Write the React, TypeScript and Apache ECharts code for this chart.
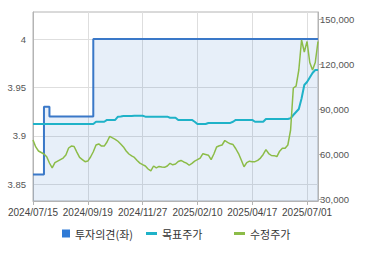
import React, { useEffect, useRef } from "react";
import * as echarts from "echarts";

const dates: string[] = [
  "2024/07/15", "2024/07/18", "2024/07/22", "2024/07/25", "2024/07/29", "2024/08/01", "2024/08/05", "2024/08/08",
  "2024/08/12", "2024/08/16", "2024/08/20", "2024/08/23", "2024/08/27", "2024/08/30", "2024/09/03", "2024/09/05",
  "2024/09/09", "2024/09/11", "2024/09/12", "2024/09/13", "2024/09/19",
  "2024/09/24", "2024/09/26", "2024/09/30", "2024/10/04", "2024/10/08", "2024/10/11", "2024/10/15", "2024/10/18",
  "2024/10/22", "2024/10/25", "2024/10/29", "2024/11/01", "2024/11/05", "2024/11/08", "2024/11/12", "2024/11/15",
  "2024/11/19", "2024/11/21", "2024/11/25", "2024/11/27",
  "2024/12/02", "2024/12/05", "2024/12/09", "2024/12/12", "2024/12/16", "2024/12/19", "2024/12/23", "2024/12/27",
  "2025/01/02", "2025/01/06", "2025/01/09", "2025/01/13", "2025/01/16", "2025/01/20", "2025/01/23", "2025/01/31",
  "2025/02/03", "2025/02/05", "2025/02/07", "2025/02/10",
  "2025/02/13", "2025/02/17", "2025/02/20", "2025/02/24", "2025/02/27", "2025/03/04", "2025/03/07", "2025/03/11",
  "2025/03/14", "2025/03/18", "2025/03/21", "2025/03/25", "2025/03/28", "2025/04/01", "2025/04/04", "2025/04/07",
  "2025/04/09", "2025/04/11", "2025/04/15", "2025/04/17",
  "2025/04/22", "2025/04/25", "2025/04/29", "2025/05/02", "2025/05/08", "2025/05/12", "2025/05/15", "2025/05/19",
  "2025/05/22", "2025/05/26", "2025/05/29", "2025/06/02", "2025/06/05", "2025/06/10", "2025/06/12", "2025/06/16",
  "2025/06/19", "2025/06/23", "2025/06/26", "2025/07/01",
  "2025/07/04", "2025/07/08", "2025/07/11", "2025/07/15",
];

// 투자의견 (left axis)
const opinion: number[] = [
  3.86, 3.86, 3.86, 3.86, 3.93, 3.93, 3.92, 3.92, 3.92, 3.92, 3.92, 3.92, 3.92, 3.92, 3.92, 3.92,
  3.92, 3.92, 3.92, 3.92, 3.92, 3.92, 4, 4, 4, 4, 4, 4, 4, 4, 4, 4,
  4, 4, 4, 4, 4, 4, 4, 4, 4, 4, 4, 4, 4, 4, 4, 4,
  4, 4, 4, 4, 4, 4, 4, 4, 4, 4, 4, 4, 4, 4, 4, 4,
  4, 4, 4, 4, 4, 4, 4, 4, 4, 4, 4, 4, 4, 4, 4, 4,
  4, 4, 4, 4, 4, 4, 4, 4, 4, 4, 4, 4, 4, 4, 4, 4,
  4, 4, 4, 4, 4, 4, 4, 4, 4,
];

// 목표주가 (right axis)
const target: number[] = [
  80000, 80000, 80000, 80000, 80000, 80000, 80000, 80000, 80000, 80000, 80000, 80000, 80000, 80000, 80000, 80000,
  80000, 80000, 80000, 80000, 80000, 80000, 80000, 81500, 81500, 81500, 81500, 82700, 82700, 82700, 82700, 84900,
  85000, 85300, 85300, 85300, 85300, 85500, 85500, 85500, 85500, 84900, 84900, 84900, 84900, 84900, 84900, 84900,
  84900, 84900, 84200, 84200, 84200, 82700, 82700, 82700, 82700, 82700, 82700, 81500, 80000, 80000, 80000, 80000,
  80700, 80700, 80700, 80700, 80700, 80700, 80700, 80700, 80700, 81500, 82700, 82700, 82700, 82700, 82700, 82700,
  82700, 81500, 81500, 81500, 81500, 83300, 83300, 83300, 83300, 83300, 83300, 83300, 83300, 83300, 83800, 86000,
  88000, 90000, 97000, 106000, 108000, 111000, 114000, 116000, 116000,
];

// 수정주가 (right axis)
const price: number[] = [
  69300, 64700, 62000, 61000, 60000, 58200, 54000, 50700, 54300, 55300, 56300, 57300, 59300, 64000, 65300, 65000,
  61300, 57700, 56300, 54900, 55300, 58000, 61500, 66000, 66700, 65300, 65300, 68000, 71700, 70700, 69800, 68500,
  66700, 64700, 62000, 60000, 58700, 57700, 55700, 53900, 52900, 52000, 50000, 48700, 52000, 50700, 51700, 51300,
  51100, 52000, 53800, 52800, 53300, 55000, 55700, 54700, 53900, 52500, 53800, 55300, 56200, 57300, 60200, 59700,
  59200, 56300, 60000, 64700, 65500, 66000, 69000, 67700, 66800, 66300, 63500, 60300, 56000, 51500, 54300, 55200,
  54900, 54900, 55800, 57300, 59700, 62900, 60300, 59000, 58900, 58300, 61900, 63800, 63900, 66000, 76000, 104000,
  105300, 116000, 136000, 128000, 135000, 121000, 116000, 121000, 135000,
];

const leftTicks: number[] = [3.85, 3.9, 3.95, 4];
const rightTicks: number[] = [30000, 60000, 90000, 120000, 150000];

const BLUE = "#3a78c8";
const CYAN = "#1fb2c8";
const GREEN = "#8cbc48";

export default function App() {
  const ref = useRef<HTMLDivElement>(null);
  useEffect(() => {
    if (!ref.current) return;
    const chart = echarts.init(ref.current, undefined, { renderer: "svg" });
    const font = "'Liberation Sans', Arial, sans-serif";
    const legendText = { fontSize: 11, color: "#333", fontFamily: "'Noto Sans CJK KR', sans-serif" };
    chart.setOption({
      animation: false,
      grid: {
        left: 33,
        right: 52,
        top: 12,
        bottom: 54,
        show: true,
        borderColor: "#b4b4b4",
        borderWidth: 1,
        backgroundColor: "#ffffff",
      },
      legend: [
        {
          data: [{ name: "투자의견(좌)", icon: "rect", itemStyle: { color: "#2f7ad6" } }],
          left: 62,
          top: 228,
          padding: 0,
          itemWidth: 8,
          itemHeight: 8,
          textStyle: legendText,
          selectedMode: false,
        },
        {
          data: [{ name: "목표주가", icon: "rect" }],
          left: 146,
          top: 228,
          padding: 0,
          itemWidth: 11,
          itemHeight: 3,
          textStyle: legendText,
          selectedMode: false,
        },
        {
          data: [{ name: "수정주가", icon: "rect" }],
          left: 234,
          top: 228,
          padding: 0,
          itemWidth: 11,
          itemHeight: 3,
          textStyle: legendText,
          selectedMode: false,
        },
      ],
      xAxis: {
        type: "category",
        data: dates,
        boundaryGap: false,
        axisLine: { lineStyle: { color: "#b4b4b4" } },
        axisTick: { show: true, interval: 19, length: 4, lineStyle: { color: "#b4b4b4" } },
        axisLabel: { interval: 19, color: "#444", fontSize: 10, fontFamily: font, margin: 6 },
        splitLine: { show: true, interval: 19, lineStyle: { color: "#dedede" } },
      },
      yAxis: [
        {
          type: "value",
          position: "left",
          min: 3.8327,
          max: 4.0279,
          axisLine: { show: true, lineStyle: { color: "#b4b4b4" } },
          axisTick: { show: false, customValues: leftTicks },
          axisLabel: { customValues: leftTicks, color: "#555", fontSize: 9.5, fontFamily: font, margin: 7 },
          splitLine: { show: true, lineStyle: { color: "#dedede" } },
        },
        {
          type: "value",
          position: "right",
          min: 28667,
          max: 154667,
          axisLine: { show: true, lineStyle: { color: "#b4b4b4" } },
          axisTick: { show: true, length: 4, customValues: rightTicks, lineStyle: { color: "#b4b4b4" } },
          axisLabel: {
            customValues: rightTicks,
            color: "#555",
            fontSize: 9.5,
            fontFamily: font,
            margin: 2,
            formatter: (v: number) => v.toLocaleString("en-US"),
          },
          splitLine: { show: false },
        },
      ],
      series: [
        {
          name: "투자의견(좌)",
          type: "line",
          yAxisIndex: 0,
          data: opinion,
          step: "end",
          symbol: "none",
          lineStyle: { color: BLUE, width: 2 },
          itemStyle: { color: "#2f7ad6" },
          areaStyle: { color: "rgba(51,119,204,0.17)", origin: "start" },
          z: 2,
        },
        {
          name: "목표주가",
          type: "line",
          yAxisIndex: 1,
          data: target,
          symbol: "none",
          lineStyle: { color: CYAN, width: 2 },
          itemStyle: { color: CYAN },
          z: 3,
        },
        {
          name: "수정주가",
          type: "line",
          yAxisIndex: 1,
          data: price,
          symbol: "none",
          lineStyle: { color: GREEN, width: 1.5 },
          itemStyle: { color: GREEN },
          z: 4,
        },
      ],
    });
    return () => chart.dispose();
  }, []);
  return (
    <div
      ref={ref}
      style={{ position: "fixed", left: 0, top: 0, width: 370, height: 255, background: "#fff" }}
    />
  );
}
